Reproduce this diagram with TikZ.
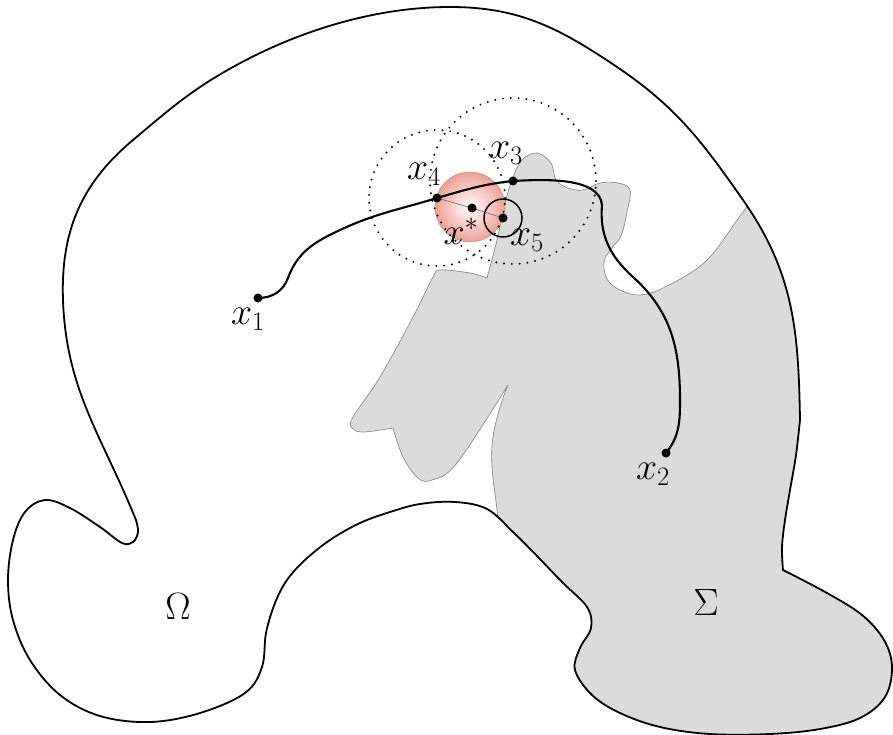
\RequirePackage{fix-cm}
\documentclass[tikz,border=0pt]{standalone}
\usepackage{amsmath,amssymb}
\usetikzlibrary{calc}

\definecolor{ballred}{RGB}{238,160,148}
\tikzset{
  bnd/.style={line width=1.8pt,black},
  sig/.style={fill=black!14},
  sigline/.style={line width=0.6pt,black!50},
  dots/.style={line width=2.2pt,dash pattern=on 0pt off 7.8pt,line cap=round},
  curve/.style={line width=2.1pt,black},
  pt/.style={circle,fill=black,inner sep=0pt,minimum size=9pt},
  lbl/.style={inner sep=0pt,font=\fontsize{38}{44}\selectfont},
}
\newcommand\omegaline{(783,570) -- plot[smooth,tension=0.6] coordinates {(783,570) (827,593) (862,615) (884,640) (892,667) (885,697) (860,718) (820,729) (770,734) (710,734) (660,727) (620,713) (592,695) (575,670) (580,648) (591,628) (587,607) (562,582) (537,556) (513,532) (487,509) (455,502) (420,504) (390,512) (360,523) (330,540) (305,560) (287,580) (275,603) (266,633) (262,667) (245,693) (200,713) (150,722) (100,716) (60,695) (30,660) (13,620) (8,580) (13,540) (25,512) (45,500) (70,508) (100,527) (122,543) (133,542) (138,532) (136,520)} to[out=112,in=-88] (63,300) to[out=92,in=220] (133,140) to[out=40,in=209] (233,67) to[out=29,in=180,looseness=0.85] (450,7) to[out=0,in=146] (617,67) to[out=-34,in=125] (743,200) to[out=-55,in=91] (800,420) -- plot[smooth,tension=0.6] coordinates {(800,420) (796,455) (790,490) (785,520) (782,547) (783,570)} -- cycle}
\newcommand\sigmaline{plot[smooth,tension=0.6] coordinates {(770,190) (747,207) (707,260) (665,287) (640,295) (620,290) (607,279) (604,262) (611,249) (621,236) (627,212) (630,190) (618,183) (600,183) (583,190) (568,188) (556,180) (551,163) (537,153) (522,160) (512,180) (504,207) (497,240) (487,278)} -- plot[smooth,tension=0.6] coordinates {(487,278) (470,273) (440,270) (433,277) (413,317) (380,377) (353,417) (352,428) (363,432) (393,428)} -- plot[smooth,tension=0.6] coordinates {(393,428) (403,457) (418,478) (432,480) (457,463) (508,385)} -- plot[smooth,tension=0.6] coordinates {(508,385) (500,407) (493,437) (492,467) (497,510) (500,540)}}

\begin{document}
\begin{tikzpicture}[x=1pt,y=-1pt]
\useasboundingbox (0,0) rectangle (893,735);

\begin{scope}
\clip \omegaline;
\fill[sig] \sigmaline -- (540,760) -- (910,760) -- (910,180) -- cycle;
\draw[sigline] \sigmaline;
\end{scope}
\draw[bnd] \omegaline;

\coordinate (x1) at (258,298);
\coordinate (x2) at (666,453);
\coordinate (x3) at (513,181);
\coordinate (x4) at (437,198);
\coordinate (x5) at (503,218);
\coordinate (xs) at (472,208);

\shade[inner color=white,outer color=ballred] (470,207) circle[radius=35pt];
\draw[ballred!80!black,line width=0.4pt] (470,207) circle[radius=35pt];

\draw[dots] (x4) circle[radius=68pt];
\draw[dots] (x3) circle[radius=83pt];

\draw[line width=1.5pt] (x5) circle[radius=19pt];
\draw[black!60,line width=0.6pt] (x4) -- (xs) -- (x5);

\draw[curve] (x1) to[out=0,in=250] (288,278) to[out=70,in=205] (340,230) to[out=25,in=197] (x4) to[out=16,in=186] (x3) to[out=3,in=95,looseness=0.8] (602,205) to[out=-95,in=138] (633,277) to[out=-42,in=90] (680,400) to[out=-90,in=51] (x2);

\node[pt] at (x1) {};
\node[pt] at (x2) {};
\node[pt] at (x3) {};
\node[pt] at (x4) {};
\node[pt] at (x5) {};
\node[pt] at (xs) {};

\node[lbl] (l1) at (248,319) {$x_1$};
\node[lbl] (l2) at (653,474) {$x_2$};
\node[lbl] (l3) at (506,153) {$x_3$};
\node[lbl] (l4) at (424,174) {$x_4$};
\node[lbl] (l5) at (527,240) {$x_5$};
\node[lbl] (ls) at (461,231) {$x^*$};
\node[lbl] (om) at (178,607) {$\Omega$};
\node[lbl] (sg) at (706,603) {$\Sigma$};
\end{tikzpicture}
\end{document}
